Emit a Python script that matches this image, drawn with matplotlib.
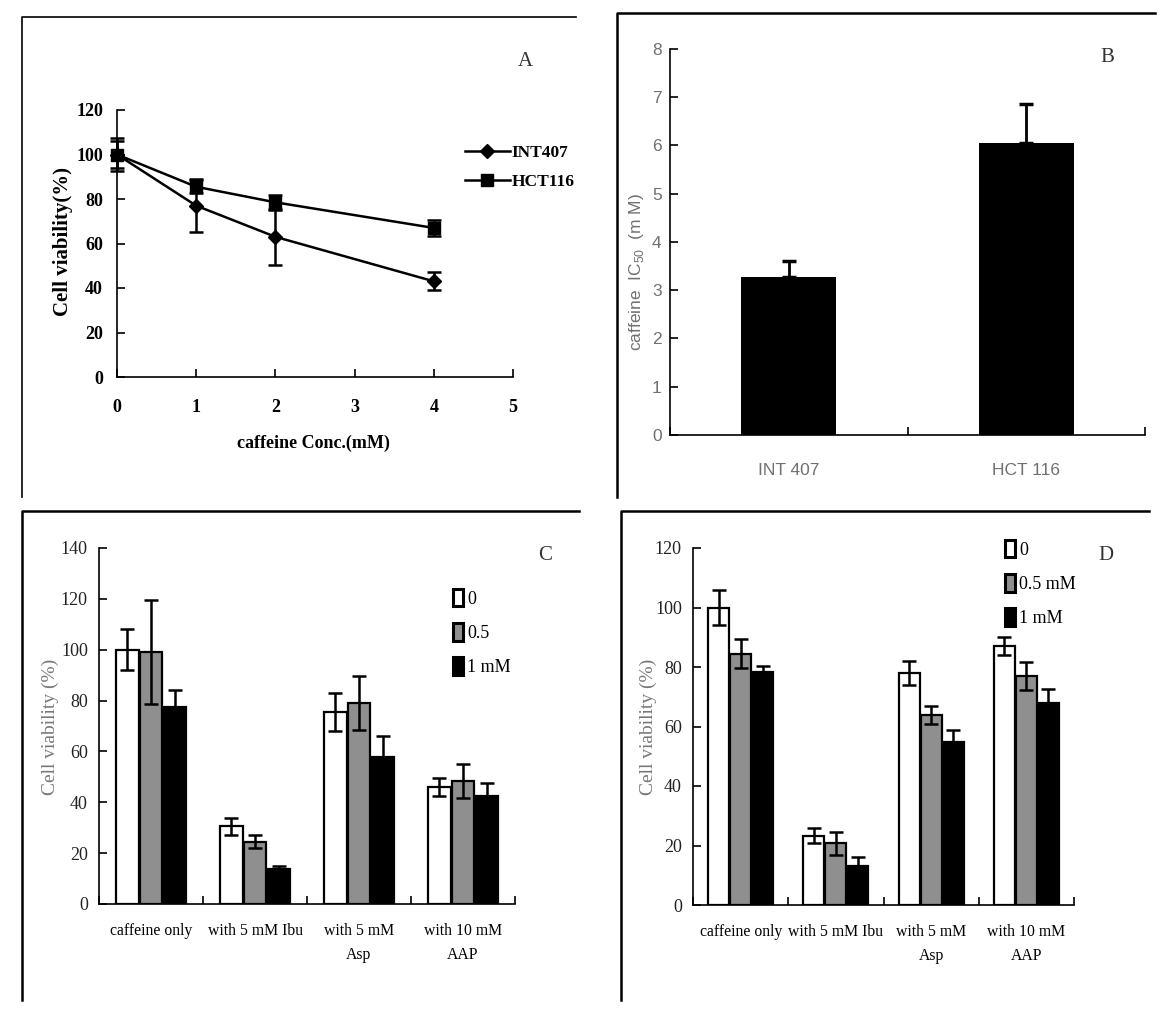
import matplotlib
matplotlib.use("Agg")
import matplotlib.pyplot as plt
from matplotlib.lines import Line2D
from matplotlib.patches import Patch
import numpy as np

# panel A: viability vs caffeine concentration
conc = [0, 1, 2, 4]
int407 = [100, 77, 63, 43]
int407_err = [7.5, 12, 12.5, 4]
hct116 = [100, 85.5, 78.5, 67]
hct116_err = [6, 3, 3.5, 3.7]

# panel B: IC50
cell_lines = ["INT 407", "HCT 116"]
ic50 = [3.27, 6.05]
ic50_err = [0.33, 0.82]

# panels C and D: viability with NSAIDs
groups = ["caffeine only", "with 5 mM Ibu", "with 5 mM\nAsp", "with 10 mM\nAAP"]
c_0 = [100, 30.5, 75.5, 46]
c_0_err = [8, 3.5, 7.5, 3.5]
c_05 = [99, 24.5, 79, 48.5]
c_05_err = [20.5, 2.5, 10.5, 6.7]
c_1 = [77.5, 13.8, 58, 42.5]
c_1_err = [6.5, 1, 8, 5]

d_0 = [100, 23.3, 78, 87]
d_0_err = [6, 2.6, 4, 3]
d_05 = [84.5, 20.7, 64, 77]
d_05_err = [5, 3.8, 3, 4.7]
d_1 = [78.3, 13.2, 54.7, 68]
d_1_err = [2.2, 3, 4.2, 4.5]

c_labels = ["0", "0.5", "1 mM"]
d_labels = ["0", "0.5 mM", "1 mM"]

SERIF = ["Liberation Serif", "DejaVu Serif"]
NARROW = ["Liberation Sans Narrow", "Liberation Sans", "DejaVu Sans"]

W, H = 1168, 1010
fig = plt.figure(figsize=(W / 100, H / 100), dpi=100)


def box(x0, y0, x1, y1):
    return [x0 / W, 1 - y1 / H, (x1 - x0) / W, (y1 - y0) / H]


def ftext(x, y, s, **kw):
    fig.text(x / W, 1 - y / H, s, **kw)


def fline(xs, ys, lw=1.5):
    fig.add_artist(Line2D([x / W for x in xs], [1 - y / H for y in ys],
                          color="black", lw=lw, transform=fig.transFigure))


# panel frames
fline([22, 22, 576], [497, 17, 17], lw=1.2)
fline([617, 617, 1155], [497, 13, 13], lw=1.8)
fline([22, 22, 579], [1000, 511, 511], lw=1.8)
fline([621, 621, 1149], [1000, 511, 511], lw=1.8)


def style_axes(ax):
    for s in ["top", "right"]:
        ax.spines[s].set_visible(False)
    for s in ["left", "bottom"]:
        ax.spines[s].set_linewidth(1.2)


# ---- A ----
axA = fig.add_axes(box(117, 110, 513, 377))
style_axes(axA)
axA.errorbar(conc, int407, yerr=int407_err, color="black", marker="D", ms=7,
             lw=1.8, elinewidth=1.8, capsize=5, capthick=1.8, clip_on=False)
axA.errorbar(conc, hct116, yerr=hct116_err, color="black", marker="s", ms=8,
             lw=1.8, elinewidth=1.8, capsize=5, capthick=1.8, clip_on=False)
axA.set_xlim(0, 5)
axA.set_ylim(0, 120)
axA.set_xticks(range(6))
axA.set_yticks(range(0, 121, 20))
axA.tick_params(direction="in", length=6, width=1.2)
axA.tick_params(axis="x", pad=16)
axA.tick_params(axis="y", pad=10)
for lab in axA.get_xticklabels() + axA.get_yticklabels():
    lab.set_fontfamily(SERIF)
    lab.set_fontweight("bold")
    lab.set_fontsize(13)
handles = [Line2D([], [], color="black", marker="D", ms=7, lw=1.8),
           Line2D([], [], color="black", marker="s", ms=8, lw=1.8)]
fig.legend(handles, ["INT407", "HCT116"], loc="upper left",
           bbox_to_anchor=(456 / W, 1 - 136 / H), frameon=False,
           handlelength=2.6, handletextpad=0.1, labelspacing=0.75,
           borderpad=0, prop={"family": SERIF, "weight": "bold", "size": 12.5})
ftext(313, 443, "caffeine Conc.(mM)", ha="center", va="center",
      family=SERIF, weight="bold", size=13)
ftext(63, 242, "Cell viability(%)", ha="center", va="center", rotation=90,
      family=SERIF, weight="bold", size=15)
ftext(525, 62, "A", ha="center", va="center", family=SERIF, size=15, color="#333333")

# ---- B ----
axB = fig.add_axes(box(670, 49, 1145, 435))
style_axes(axB)
xb = np.arange(len(cell_lines)) + 0.5
axB.bar(xb, ic50, width=0.4, color="black")
axB.errorbar(xb, ic50, yerr=[[0] * len(ic50), ic50_err], fmt="none",
             ecolor="black", elinewidth=2, capsize=5, capthick=2.5)
axB.set_xlim(0, 2)
axB.set_ylim(0, 8)
axB.set_xticks([0, 1, 2])
axB.set_xticklabels([])
axB.set_xticks(xb, minor=True)
axB.set_xticklabels(cell_lines, minor=True)
axB.tick_params(axis="x", which="minor", length=0, pad=20)
axB.set_yticks(range(9))
axB.tick_params(direction="in", length=6, width=1.2)
axB.tick_params(axis="y", pad=6)
for lab in axB.get_xticklabels(minor=True) + axB.get_yticklabels():
    lab.set_fontfamily(NARROW)
    lab.set_fontsize(12.5)
    lab.set_color("#707070")
ftext(636, 272, "caffeine  IC$_{\\mathregular{50}}$  (m M)", ha="center", va="center",
      rotation=90, family=NARROW, size=12.5, color="#707070")
ftext(1107, 58, "B", ha="center", va="center", family=SERIF, size=15, color="#333333")


# ---- C and D ----
def cluster(ax, s0, e0, s05, e05, s1, e1, ymax, labels, leg_xy):
    style_axes(ax)
    x = np.arange(len(groups)) + 0.5
    w = 0.22
    off = 0.23
    kw = dict(width=w, edgecolor="black", linewidth=1.6)
    ax.bar(x - off, s0, color="white", **kw)
    ax.bar(x, s05, color="#8f8f8f", **kw)
    ax.bar(x + off, s1, color="black", **kw)
    ekw = dict(fmt="none", ecolor="black", elinewidth=1.8, capsize=5, capthick=1.8)
    ax.errorbar(x - off, s0, yerr=e0, **ekw)
    ax.errorbar(x, s05, yerr=e05, **ekw)
    ax.errorbar(x + off, s1, yerr=e1, **ekw)
    ax.set_xlim(0, len(groups))
    ax.set_ylim(0, ymax)
    ax.set_yticks(range(0, ymax + 1, 20))
    ax.set_xticks(range(len(groups) + 1))
    ax.set_xticklabels([])
    ax.set_xticks(x, minor=True)
    ax.set_xticklabels(groups, minor=True, linespacing=1.6)
    ax.tick_params(direction="in", length=6, width=1.2)
    ax.tick_params(axis="x", which="minor", length=0, pad=14)
    ax.tick_params(axis="y", pad=8)
    for lab in ax.get_xticklabels(minor=True):
        lab.set_fontfamily(SERIF)
        lab.set_fontsize(11.3)
    for lab in ax.get_yticklabels():
        lab.set_fontfamily(SERIF)
        lab.set_fontsize(13)
        lab.set_color("#222222")
    hs = [Patch(facecolor="white", edgecolor="black", lw=2.2),
          Patch(facecolor="#8f8f8f", edgecolor="black", lw=2.2),
          Patch(facecolor="black", edgecolor="black", lw=2.2)]
    fig.legend(hs, labels, loc="upper left",
               bbox_to_anchor=(leg_xy[0] / W, 1 - leg_xy[1] / H), frameon=False,
               handlelength=0.55, handleheight=1.1, handletextpad=0.25,
               labelspacing=0.85, borderpad=0,
               prop={"family": SERIF, "size": 13})


axC = fig.add_axes(box(99, 548, 515, 904))
cluster(axC, c_0, c_0_err, c_05, c_05_err, c_1, c_1_err, 140, c_labels, (444, 580))
ftext(50, 727, "Cell viability (%)", ha="center", va="center", rotation=90,
      family=SERIF, size=14, color="#777777")
ftext(545, 556, "C", ha="center", va="center", family=SERIF, size=15, color="#333333")

axD = fig.add_axes(box(693, 548, 1074, 905))
cluster(axD, d_0, d_0_err, d_05, d_05_err, d_1, d_1_err, 120, d_labels, (996, 531))
ftext(648, 727, "Cell viability (%)", ha="center", va="center", rotation=90,
      family=SERIF, size=14, color="#777777")
ftext(1106, 555, "D", ha="center", va="center", family=SERIF, size=15, color="#333333")

fig.savefig("out.png", dpi=100)
